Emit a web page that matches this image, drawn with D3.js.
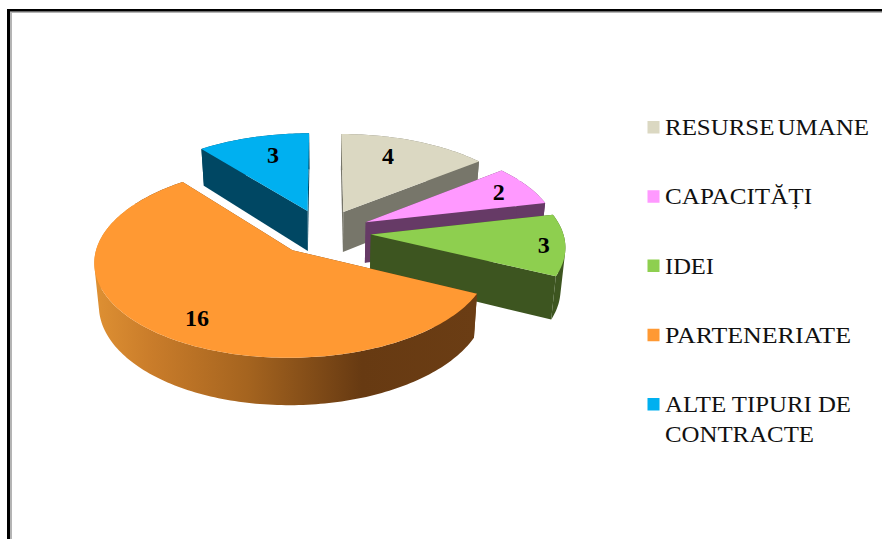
<!DOCTYPE html>
<html>
<head>
<meta charset="utf-8">
<script src="https://cdn.jsdelivr.net/npm/d3@7"></script>
<style>
html,body{margin:0;padding:0;background:#fff;overflow:hidden}
svg{display:block}
text{font-family:"Liberation Serif","Times New Roman",serif;fill:#111}
</style>
</head>
<body>
<svg id="chart" width="882" height="539"></svg>
<script>
// Data
const categories = ["RESURSE UMANE", "CAPACITĂȚI", "IDEI", "PARTENERIATE", "ALTE TIPURI DE CONTRACTE"];
const values = [4, 2, 3, 16, 3];
const topColors = ["#dbd8c2", "#ff99ff", "#8ecf4f", "#ff9933", "#00b0f0"];
const sideColors = ["#77766a", "#663a66", "#3d5520", "url(#orangeSide)", "#004763"];
const legendLines = [["RESURSE UMANE"], ["CAPACITĂȚI"], ["IDEI"], ["PARTENERIATE"], ["ALTE TIPURI DE", "CONTRACTE"]];
const legendWidths = [[204], [147], [49], [186], [186, 149]];
const legendWordSpacing = [-3, 0, 0, 0, 0];
const labelRadii = [0.75, 0.82, 0.89, 0.79, 0.73];
const labelAngleShift = [-5, 0, 1, -5, 3];

const W = 882, H = 539;
const svg = d3.select("#chart");

// Perspective projection of the pie disk
const explode = 0.25, persp = 0.113, depth = 41, lowerShrink = 0.98;
const xScale = d3.scaleLinear().domain([0, 1]).range([0, 192]);
const zScale = d3.scaleLinear().domain([0, 1]).range([0, 91]);
const cx = 323, cy = 232;
function project(X, Z, down) {
  const s = 1 / (1 + persp * Z);
  const px = xScale(X) * s * (down ? lowerShrink : 1);
  return [cx + px, cy - zScale(Z) * s + (down ? depth * s : 0)];
}
const line = d3.line();

// Gradient on the orange slice's outer wall
const defs = svg.append("defs");
const grad = defs.append("linearGradient").attr("id", "orangeSide")
  .attr("gradientUnits", "userSpaceOnUse").attr("x1", 95).attr("x2", 476).attr("y1", 0).attr("y2", 0);
[[0, "#de9033"], [0.15, "#c97c2a"], [0.4, "#a5641f"], [0.7, "#673a12"], [1, "#6b3d14"]]
  .forEach(([o, c]) => grad.append("stop").attr("offset", o).attr("stop-color", c));

// Frame
svg.append("rect").attr("x", 10).attr("y", 11).attr("width", W).attr("height", 2).attr("fill", "#b4b4b4");
svg.append("rect").attr("x", 10).attr("y", 11).attr("width", 2).attr("height", H).attr("fill", "#b4b4b4");
svg.append("rect").attr("x", 7).attr("y", 9).attr("width", W).attr("height", 2.4).attr("fill", "#000");
svg.append("rect").attr("x", 7).attr("y", 9).attr("width", 3).attr("height", H).attr("fill", "#000");

// Slices
const arcs = d3.pie().sort(null).value(d => d)(values);
const g = svg.append("g");
const paintOrder = [4, 0, 1, 2, 3];

function arcPts(a0, a1) {
  const n = Math.max(2, Math.ceil((a1 - a0) / 0.02));
  return d3.range(n + 1).map(i => a0 + (a1 - a0) * i / n);
}

paintOrder.forEach(i => {
  const a = arcs[i];
  const mid = (a.startAngle + a.endAngle) / 2;
  const ox = explode * Math.sin(mid), oz = explode * Math.cos(mid);
  const rim = t => [ox + Math.sin(t), oz + Math.cos(t)];
  const side = sideColors[i], top = topColors[i];
  const angles = arcPts(a.startAngle, a.endAngle);

  // The wall is a union of small quads, all wound the same way, so its
  // silhouette stays a straight tangent where the wall turns out of view.
  const wall = ts => d3.pairs(ts).map(([t0, t1]) => {
    const quad = [project(...rim(t0), false), project(...rim(t1), false),
                  project(...rim(t1), true), project(...rim(t0), true)];
    if (d3.polygonArea(quad) < 0) quad.reverse();
    return line(quad) + "Z";
  }).join("");
  const radial = t => line([
    project(ox, oz, false), project(...rim(t), false),
    project(...rim(t), true), project(ox, oz, true)
  ]) + "Z";

  const back = angles.filter(t => Math.cos(t) >= 0.5);
  const front = angles.filter(t => Math.cos(t) < 0.5);
  const flat = i === 3 ? "#6b3d14" : side;

  if (back.length > 1) g.append("path").attr("d", wall(back)).attr("fill", flat);
  [a.startAngle, a.endAngle].forEach(t =>
    g.append("path").attr("d", radial(t)).attr("fill", flat));
  if (front.length > 1) g.append("path").attr("d", wall(front)).attr("fill", side);

  const topPts = [project(ox, oz, false)].concat(angles.map(t => project(...rim(t), false)));
  g.append("path").attr("d", line(topPts) + "Z").attr("fill", top);
});

// Value labels
arcs.forEach((a, i) => {
  const mid = (a.startAngle + a.endAngle) / 2;
  const t = mid + labelAngleShift[i] * Math.PI / 180;
  const p = project(explode * Math.sin(mid) + labelRadii[i] * Math.sin(t),
                    explode * Math.cos(mid) + labelRadii[i] * Math.cos(t), false);
  svg.append("text").attr("x", p[0]).attr("y", p[1]).attr("dy", "0.33em")
    .attr("text-anchor", "middle").attr("font-size", 24).attr("font-weight", "bold")
    .style("fill", "#000").text(a.value);
});

// Legend
const legendY = d3.scaleLinear().domain([0, 4]).range([135, 412]);
categories.forEach((c, i) => {
  const base = legendY(i);
  svg.append("rect").attr("x", 647.5).attr("y", base - 14).attr("width", 12).attr("height", 12.5)
    .attr("fill", topColors[i]);
  legendLines[i].forEach((l, j) => {
    svg.append("text").attr("x", 665).attr("y", base + j * 30)
      .attr("font-size", 24).style("word-spacing", legendWordSpacing[i] + "px")
      .attr("textLength", legendWidths[i][j])
      .attr("lengthAdjust", "spacingAndGlyphs").text(l);
  });
});
</script>
</body>
</html>
